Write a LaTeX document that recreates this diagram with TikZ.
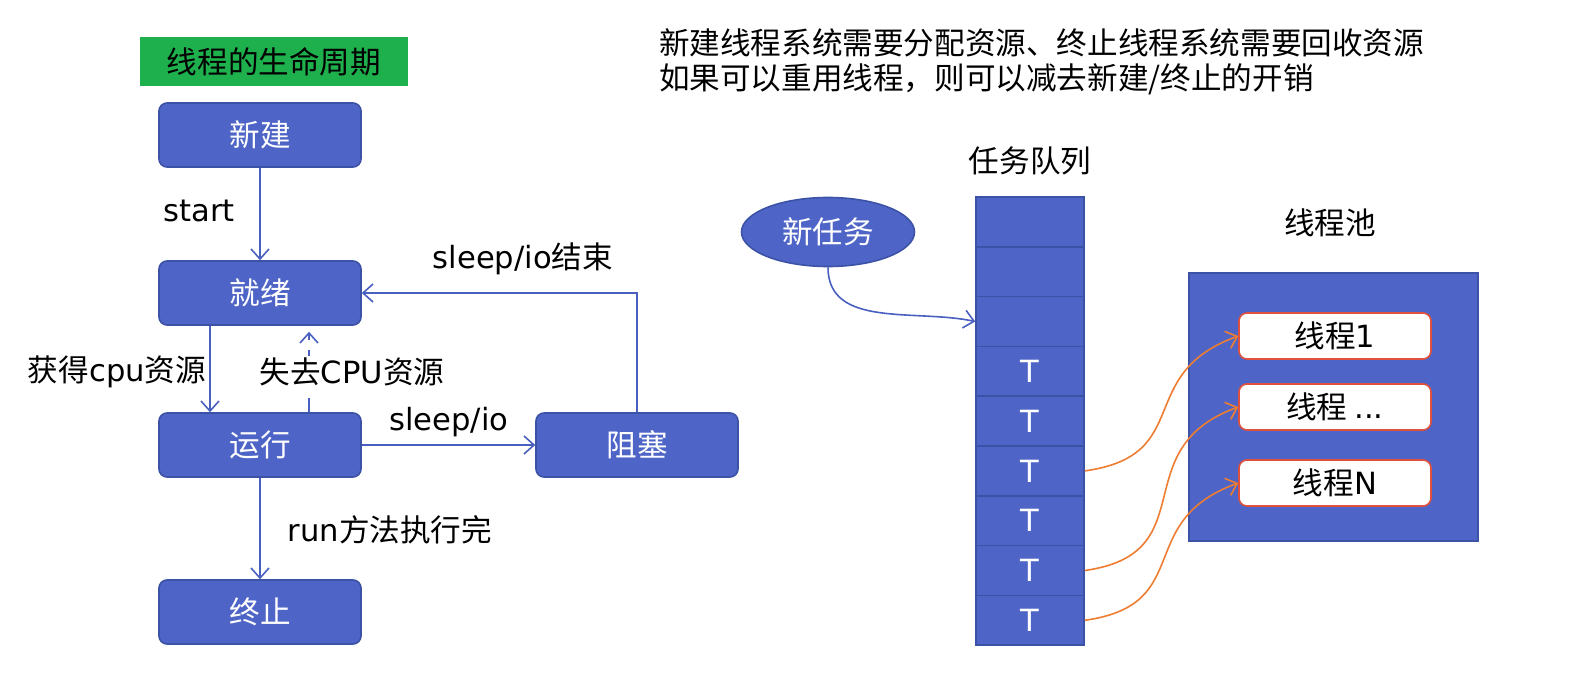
\documentclass[tikz,border=0pt]{standalone}
\usepackage{fontspec}
\setmainfont{Noto Sans CJK SC}
\newfontfamily\lat{DejaVu Sans}
\usetikzlibrary{arrows.meta,shapes.geometric}
\definecolor{stateblue}{HTML}{4E65C7}
\definecolor{edgeblue}{HTML}{3B52A6}
\definecolor{linkblue}{HTML}{4A60C0}
\definecolor{titlegreen}{HTML}{1EB04C}
\definecolor{hoporange}{HTML}{EE7D31}
\definecolor{workerred}{HTML}{E0503C}

\begin{document}
\begin{tikzpicture}[
    x=0.5pt, y=-0.5pt,
    font=\fontsize{15.3}{17.5}\selectfont,
    state/.style={draw=edgeblue, fill=stateblue, text=white, rounded corners=4pt,
        minimum width=101pt, minimum height=32pt, line width=0.8pt},
    link/.style={draw=linkblue, line width=0.8pt, -{Straight Barb[length=5pt,width=9pt]}},
    cell/.style={draw=edgeblue, fill=stateblue, text=white,
        minimum width=54pt, minimum height=24.9pt, line width=0.8pt},
    worker/.style={draw=workerred, fill=white, rounded corners=4pt,
        minimum width=96pt, minimum height=23pt, line width=0.8pt},
    hop/.style={draw=hoporange, line width=0.8pt, -{Straight Barb[length=5pt,width=9pt]}}
]
\useasboundingbox (0,0) rectangle (1576,684);

% life cycle
\node[fill=titlegreen, minimum width=134pt, minimum height=24.5pt] (title) at (274,62) {线程的生命周期};
\node[state] (new)     at (260,135) {新建};
\node[state] (ready)   at (260,293) {就绪};
\node[state] (run)     at (260,445) {运行};
\node[state] (dead)    at (260,612) {终止};
\node[state] (blocked) at (637,445) {阻塞};

\draw[link] (new) -- (ready);
\draw[link] ([xshift=-25pt]ready.south) -- ([xshift=-25pt]run.north);
\draw[link, dashed, dash pattern=on 7pt off 5pt, shorten >=3pt] ([xshift=24.5pt]run.north) -- ([xshift=24.5pt]ready.south);
\draw[link] (run) -- (blocked);
\draw[link] (blocked.north) |- (ready.east);
\draw[link] (run) -- (dead);

\node (lstart) at (199,211) {\lat start};
\node (lget)   at (117,372) {获得{\lat cpu}资源};
\node[fill=white, inner sep=1pt] (llose) at (352,372) {失去{\lat CPU}资源};
\node (lwake)  at (523,259) {{\lat sleep/io}结束};
\node (lsleep) at (449,422) {\lat sleep/io};
\node (ldone)  at (390,530) {{\lat run}方法执行完};

% thread pool
\node[anchor=west, align=left] (note) at (652,62) {新建线程系统需要分配资源、终止线程系统需要回收资源\\如果可以重用线程，则可以减去新建/终止的开销};

\node (lqueue) at (1030,161) {任务队列};
\foreach \i/\lbl in {1/{},2/{},3/{},4/T,5/T,6/T,7/T,8/T,9/T}
    \node[cell] (q\i) at (1030,{197+49.8*(\i-0.5)}) {\lat\lbl};

\node[ellipse, draw=edgeblue, fill=stateblue, text=white, line width=0.8pt,
    minimum width=86.5pt, minimum height=34.5pt] (task) at (828,232) {新任务};
\draw[link] (task.south) to[out=-90, in=168] (q3.west);

\node (lpool) at (1330,223) {线程池};
\node[draw=edgeblue, fill=stateblue, minimum width=144.5pt, minimum height=134pt,
    line width=0.6pt] (pool) at (1333.5,407) {};
\node[worker] (w1) at (1335,336) {线程{\lat 1}};
\node[worker] (w2) at (1335,407) {线程 {\lat ...}};
\node[worker] (w3) at (1335,483) {线程{\lat N}};

\draw[hop] (q6.east) to[out=8, in=200, looseness=1.4] (w1.west);
\draw[hop] (q8.east) to[out=8, in=200, looseness=1.4] (w2.west);
\draw[hop] (q9.east) to[out=8, in=200, looseness=1.4] (w3.west);
\end{tikzpicture}
\end{document}
